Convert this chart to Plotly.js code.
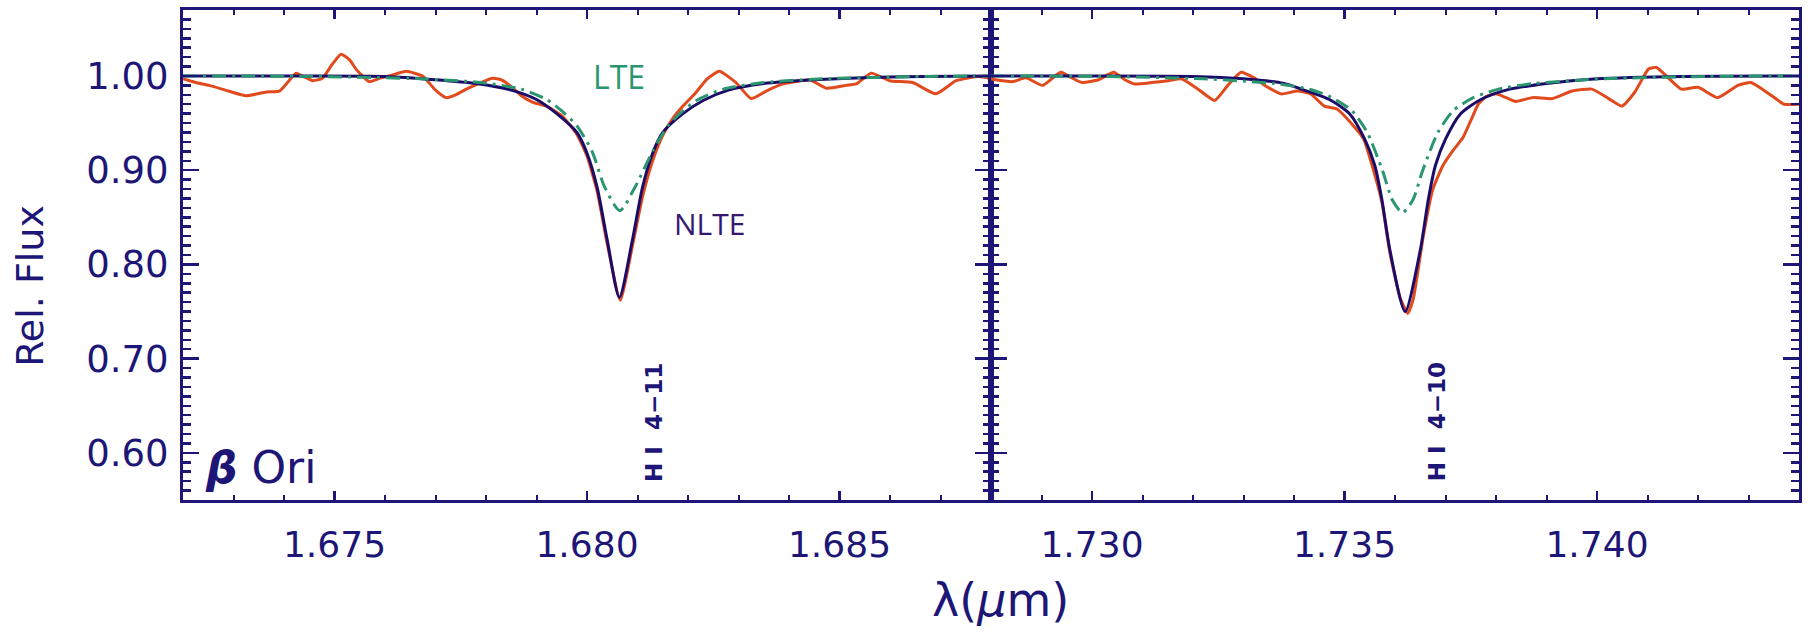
<!DOCTYPE html>
<html>
<head>
<meta charset="utf-8">
<script src="https://cdn.plot.ly/plotly-3.0.1.min.js"></script>
<style>html,body{margin:0;padding:0;background:#fff;}#chart{width:1816px;height:634px;}</style>
</head>
<body>
<div id="chart"></div>
<script>
// ---------- Left panel: H I 4-11 ----------
const obsL_x = [1.6720,1.67225,1.67252,1.6729,1.67325,1.67365,1.67391,1.67410,1.67424,1.67440,1.67457,1.67476,1.67495,1.67513,1.67530,1.67543,1.67569,1.67589,1.67615,1.67642,1.67675,1.67700,1.67721,1.67740,1.67761,1.67790,1.67813,1.67830,1.67847,1.67870,1.67893,1.67919,1.6795,1.6798,1.6800,1.6802,1.6804,1.68066,1.6809,1.6811,1.6813,1.6815,1.6817,1.6819,1.68215,1.68238,1.68262,1.68295,1.68325,1.68355,1.68385,1.68414,1.68441,1.68474,1.68513,1.68533,1.68563,1.68599,1.68645,1.68691,1.68731,1.68777,1.6880];
const obsL_y = [0.997,0.993,0.990,0.984,0.979,0.983,0.984,0.995,1.003,0.999,0.995,0.9975,1.012,1.023,1.017,1.007,0.994,0.9975,1.001,1.005,0.9996,0.985,0.977,0.980,0.986,0.993,0.9975,0.996,0.990,0.979,0.972,0.968,0.958,0.938,0.915,0.878,0.822,0.762,0.820,0.872,0.910,0.937,0.955,0.968,0.982,0.997,1.005,0.993,0.976,0.984,0.991,0.994,0.996,0.987,0.990,0.9915,1.003,0.995,0.993,0.981,0.995,0.9993,0.997];

const nlteL_x = [1.6720,1.6740,1.6760,1.6770,1.6778,1.6785,1.6790,1.6794,1.6798,1.6800,1.6802,1.6804,1.68064,1.6809,1.6811,1.6813,1.6815,1.6819,1.6823,1.6828,1.6835,1.6845,1.6860,1.6880];
const nlteL_y = [1.000,1.000,0.9995,0.996,0.992,0.985,0.975,0.960,0.940,0.918,0.882,0.826,0.765,0.826,0.882,0.918,0.940,0.960,0.974,0.985,0.992,0.996,0.999,1.000];

const lteL_x = [1.6720,1.6745,1.6767,1.6779,1.6787,1.6792,1.6795,1.6798,1.6801,1.68035,1.68065,1.68095,1.6813,1.6816,1.6819,1.6822,1.6827,1.6835,1.6847,1.6867,1.6880];
const lteL_y = [1.000,0.9995,0.997,0.993,0.986,0.975,0.963,0.947,0.920,0.882,0.857,0.882,0.920,0.947,0.963,0.975,0.986,0.993,0.997,0.9995,1.000];

// ---------- Right panel: H I 4-10 ----------
const obsR_x = [1.7280,1.72843,1.72869,1.72902,1.72938,1.7296,1.7298,1.73013,1.73043,1.73065,1.73085,1.73118,1.73151,1.73177,1.7321,1.73243,1.73269,1.73295,1.73321,1.73348,1.73374,1.73407,1.73433,1.7346,1.73485,1.73518,1.73538,1.7356,1.73574,1.7359,1.7361,1.73625,1.73636,1.73656,1.73675,1.73695,1.73715,1.73735,1.73752,1.73765,1.7378,1.7380,1.7382,1.73839,1.73872,1.73912,1.73951,1.7399,1.74023,1.74049,1.74075,1.74102,1.74118,1.74141,1.74167,1.7420,1.74239,1.74279,1.74305,1.74338,1.74371,1.7440];
const obsR_y = [0.9968,0.994,0.998,0.990,1.004,0.998,0.993,0.996,1.004,0.996,0.9915,0.993,0.995,0.997,0.986,0.974,0.990,1.004,0.998,0.988,0.981,0.984,0.981,0.968,0.965,0.947,0.933,0.895,0.866,0.812,0.765,0.748,0.763,0.830,0.880,0.905,0.921,0.935,0.955,0.970,0.978,0.981,0.977,0.973,0.977,0.976,0.984,0.986,0.976,0.968,0.983,1.0074,1.009,0.998,0.986,0.988,0.977,0.990,0.993,0.982,0.970,0.970];

const nlteR_x = [1.7280,1.7300,1.7320,1.7330,1.7338,1.7342,1.7347,1.7351,1.7354,1.7356,1.73574,1.7359,1.7362,1.7365,1.73666,1.7368,1.7370,1.7373,1.7377,1.7382,1.7390,1.7400,1.7417,1.7440];
const nlteR_y = [1.000,1.000,0.9995,0.997,0.992,0.985,0.975,0.960,0.933,0.905,0.869,0.815,0.750,0.815,0.869,0.905,0.933,0.960,0.975,0.985,0.992,0.997,0.9995,1.000];

const lteR_x = [1.7280,1.7302,1.7322,1.7336,1.7343,1.73475,1.73515,1.73545,1.73575,1.73595,1.73615,1.73635,1.73655,1.73685,1.73715,1.73755,1.73805,1.73875,1.74015,1.7422,1.7440];
const lteR_y = [1.000,0.9995,0.997,0.992,0.986,0.977,0.963,0.940,0.900,0.868,0.855,0.868,0.900,0.940,0.963,0.977,0.986,0.992,0.997,0.9995,1.000];

const xTickFormat = '.3f';
const yTickFormat = '.2f';

const NAVY = '#1d1677';
const ORANGE = '#e04a1c';
const MODEL = '#1c0c6a';
const GREEN = '#2a9670';
const FONT = 'DejaVu Sans';

function lineTrace(x, y, color, dash, xa, ya, smooth) {
  return {x: x, y: y, xaxis: xa, yaxis: ya, type: 'scatter', mode: 'lines',
    line: {color: color, width: 3, dash: dash, shape: 'spline', smoothing: smooth},
    hoverinfo: 'skip'};
}

const traces = [
  lineTrace(obsL_x, obsL_y, ORANGE, 'solid', 'x', 'y', 0.5),
  lineTrace(nlteL_x, nlteL_y, MODEL, 'solid', 'x', 'y', 0.7),
  lineTrace(lteL_x, lteL_y, GREEN, '14px,6px,3px,6px', 'x', 'y', 0.7),
  lineTrace(obsR_x, obsR_y, ORANGE, 'solid', 'x2', 'y2', 0.5),
  lineTrace(nlteR_x, nlteR_y, MODEL, 'solid', 'x2', 'y2', 0.7),
  lineTrace(lteR_x, lteR_y, GREEN, '14px,6px,3px,6px', 'x2', 'y2', 0.7)
];

const xCommon = {
  showline: true, linecolor: NAVY, linewidth: 3, mirror: 'allticks',
  ticks: 'inside', ticklen: 9, tickwidth: 2.5, tickcolor: NAVY,
  dtick: 0.005, tick0: 0, tickformat: xTickFormat,
  minor: {dtick: 0.001, ticks: 'inside', ticklen: 5, tickwidth: 2, tickcolor: NAVY},
  showgrid: false, zeroline: false,
  tickfont: {family: FONT, size: 36, color: NAVY},
  ticklabelstandoff: 11
};
const yCommon = {
  showline: true, linecolor: NAVY, linewidth: 3, mirror: 'allticks',
  ticks: 'inside', ticklen: 16, tickwidth: 2.5, tickcolor: NAVY,
  dtick: 0.1, tick0: 0, tickformat: yTickFormat, range: [0.55, 1.07],
  minor: {dtick: 0.01, ticks: 'inside', ticklen: 8, tickwidth: 2.5, tickcolor: NAVY},
  showgrid: false, zeroline: false,
  tickfont: {family: FONT, size: 37, color: NAVY},
  ticklabelstandoff: 4
};

const layout = {
  width: 1816, height: 634,
  margin: {l: 183, r: 17, t: 10, b: 134},
  paper_bgcolor: '#ffffff', plot_bgcolor: '#ffffff',
  showlegend: false,
  xaxis: Object.assign({}, xCommon, {domain: [0, 0.5], range: [1.672, 1.688], anchor: 'y'}),
  xaxis2: Object.assign({}, xCommon, {domain: [0.5, 1], range: [1.728, 1.744], anchor: 'y2'}),
  yaxis: Object.assign({}, yCommon, {anchor: 'x'}),
  yaxis2: Object.assign({}, yCommon, {anchor: 'x2', showticklabels: false}),
  annotations: [
    {xref: 'x', yref: 'y', x: 1.68064, y: 0.999, text: 'LTE', showarrow: false,
     xanchor: 'center', yanchor: 'middle',
     font: {family: 'Open Sans', size: 32, color: GREEN}},
    {xref: 'x', yref: 'y', x: 1.68243, y: 0.843, text: 'NLTE', showarrow: false,
     xanchor: 'center', yanchor: 'middle',
     font: {family: 'Open Sans', size: 30, color: '#35196f'}},
    {xref: 'x', yref: 'y', x: 1.6724, y: 0.585, xanchor: 'left', yanchor: 'middle',
     text: '<b><i>β</i></b> Ori', showarrow: false,
     font: {family: FONT, size: 44, color: NAVY}},
    {xref: 'x', yref: 'y', x: 1.68133, y: 0.632, text: '<b>H I  4−11</b>', textangle: -90, showarrow: false,
     xanchor: 'center', yanchor: 'middle',
     font: {family: FONT, size: 23, color: NAVY}},
    {xref: 'x2', yref: 'y2', x: 1.73682, y: 0.633, text: '<b>H I  4−10</b>', textangle: -90, showarrow: false,
     xanchor: 'center', yanchor: 'middle',
     font: {family: FONT, size: 23, color: NAVY}},
    {xref: 'paper', yref: 'paper', x: 0.5056, y: -0.204, text: 'λ(<i>μ</i>m)', showarrow: false,
     xanchor: 'center', yanchor: 'middle',
     font: {family: FONT, size: 46, color: NAVY}},
    {xref: 'paper', yref: 'paper', x: -0.0947, y: 0.437, text: 'Rel. Flux', textangle: -90, showarrow: false,
     xanchor: 'center', yanchor: 'middle',
     font: {family: FONT, size: 38, color: NAVY}}
  ]
};

Plotly.newPlot('chart', traces, layout, {displayModeBar: false, staticPlot: true});
</script>
</body>
</html>
